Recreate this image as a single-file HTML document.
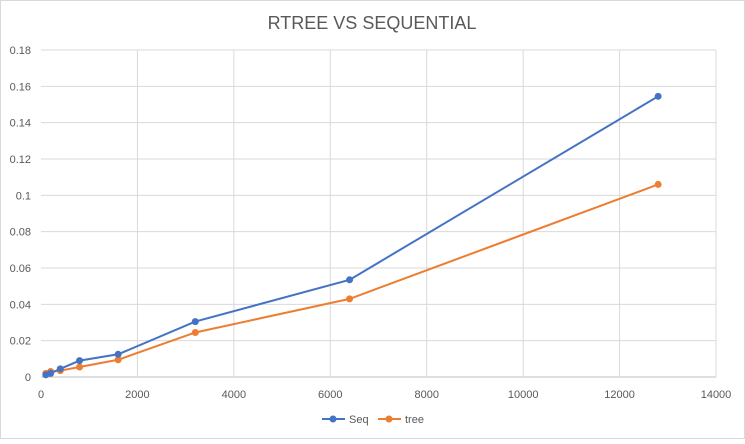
<!DOCTYPE html>
<html><head><meta charset="utf-8"><style>
body{margin:0;background:#fff;font-family:"Liberation Sans",sans-serif}
svg text{font-family:"Liberation Sans",sans-serif}
</style></head><body>
<svg id="c" width="745" height="439">
<rect x="0.5" y="0.5" width="744" height="438" fill="#fff" stroke="#d9d9d9"/>
<text x="372" y="29" text-anchor="middle" font-size="18" fill="#595959">RTREE VS SEQUENTIAL</text>
<g id="grid"></g><g id="series"></g>
<g>
<g><line x1="322" y1="419" x2="345" y2="419" stroke="#4472C4" stroke-width="2"/><circle cx="333" cy="419" r="3.5" fill="#4472C4"/><text x="349" y="423" font-size="11" fill="#595959">Seq</text></g>
<g><line x1="378" y1="419" x2="401" y2="419" stroke="#ED7D31" stroke-width="2"/><circle cx="389" cy="419" r="3.5" fill="#ED7D31"/><text x="405" y="423" font-size="11" fill="#595959">tree</text></g>
</g>
</svg>
<script>
const xValues=[100,200,400,800,1600,3200,6400,12800];
const seqValues=[0.0012,0.002,0.0045,0.009,0.0125,0.0305,0.0535,0.1545];
const treeValues=[0.002,0.003,0.0035,0.0055,0.0095,0.0245,0.043,0.106];
const xTicks=[0,2000,4000,6000,8000,10000,12000,14000];
const yTicks=[0,0.02,0.04,0.06,0.08,0.1,0.12,0.14,0.16,0.18];
const L=41,R=716,T=50,B=377;
const xs=v=>L+v/14000*(R-L), ys=v=>B-v/0.18*(B-T);
const NS="http://www.w3.org/2000/svg";
const g=document.getElementById('grid'), s=document.getElementById('series');
function mk(tag,at,p){const e=document.createElementNS(NS,tag);for(const k in at)e.setAttribute(k,at[k]);p.appendChild(e);return e;}
yTicks.forEach(v=>{const y=ys(v);
 const l=mk('line',{x1:L,x2:R,y1:y,y2:y,stroke:v===0?'#bfbfbf':'#d9d9d9'},g);
 
 
 const t=mk('text',{x:L-10,y:y+4,'text-anchor':'end','font-size':'11',fill:'#595959'},g);t.textContent=String(v);
 
 });
xTicks.forEach(v=>{const x=xs(v);
 if(v>0){const l=mk('line',{x1:x,x2:x,y1:T,y2:B,stroke:'#d9d9d9'},g);
 
 }
 const t=mk('text',{x:x,y:B+21,'text-anchor':'middle','font-size':'11',fill:'#595959'},g);t.textContent=String(v);
 
 });
function series(vals,col,name){
 const pl=mk('polyline',{points:vals.map((v,i)=>xs(xValues[i])+','+ys(v)).join(' '),fill:'none',stroke:col,'stroke-width':2},s);
 
 
 vals.forEach((v,i)=>{const c=mk('circle',{cx:xs(xValues[i]),cy:ys(v),r:3.5,fill:col},s);
 
 });}
series(treeValues,'#ED7D31','tree');
series(seqValues,'#4472C4','seq');
</script>
</body></html>
